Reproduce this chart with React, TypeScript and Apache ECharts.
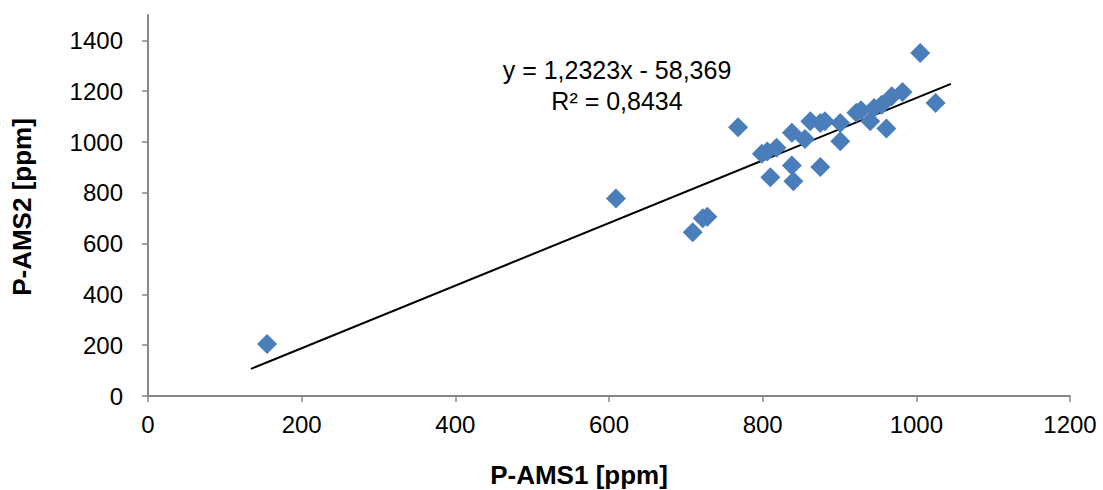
import React, { useEffect, useRef } from "react";
import * as echarts from "echarts";

const xValues = [155, 609, 709, 722, 728, 768, 799, 806, 810, 818, 838, 838, 840, 855, 862, 875, 875, 881, 901, 901, 922, 928, 940, 945, 955, 961, 968, 982, 1005, 1025];
const yValues = [205, 778, 645, 700, 706, 1058, 954, 963, 861, 977, 1036, 907, 845, 1012, 1082, 1075, 902, 1082, 1075, 1003, 1115, 1125, 1082, 1134, 1147, 1053, 1180, 1197, 1350, 1154];
const trendX = [134, 1045];
const trendY = [107, 1229];
const xTicks = [0, 200, 400, 600, 800, 1000, 1200];
const yTicks = [0, 200, 400, 600, 800, 1000, 1200, 1400];
const equationText = "y = 1,2323x - 58,369";
const r2Text = "R² = 0,8434";
const xTitle = "P-AMS1 [ppm]";
const yTitle = "P-AMS2 [ppm]";

const FONT = "'Liberation Sans', Arial, sans-serif";
const AXIS_COLOR = "#878787";

export default function App() {
  const ref = useRef<HTMLDivElement>(null);
  useEffect(() => {
    if (!ref.current) return;
    const chart = echarts.init(ref.current, undefined, { renderer: "svg" });
    const points = xValues.map((x, i) => [x, yValues[i]]);
    const trend = trendX.map((x, i) => [x, trendY[i]]);
    const fmt = (v: number) => String(v);
    chart.setOption({
      animation: false,
      backgroundColor: "#ffffff",
      grid: { left: 148, right: 33, top: 15, bottom: 94, containLabel: false },
      xAxis: {
        type: "value",
        min: 0,
        max: 1200,
        interval: 200,
        splitLine: { show: false },
        axisLine: { show: true, onZero: false, lineStyle: { color: AXIS_COLOR, width: 2 } },
        axisTick: { show: true, length: 6, lineStyle: { color: AXIS_COLOR, width: 1.5 }, customValues: xTicks },
        axisLabel: { color: "#000", fontFamily: FONT, fontSize: 24, margin: 16, customValues: xTicks, formatter: fmt },
      },
      yAxis: {
        type: "value",
        min: 0,
        max: 1500,
        interval: 100,
        splitLine: { show: false },
        axisLine: { show: true, onZero: false, lineStyle: { color: AXIS_COLOR, width: 2 } },
        axisTick: { show: true, length: 6, lineStyle: { color: AXIS_COLOR, width: 1.5 }, customValues: yTicks },
        axisLabel: { color: "#000", fontFamily: FONT, fontSize: 24, margin: 25, customValues: yTicks, formatter: fmt },
      },
      series: [
        {
          type: "line",
          data: trend,
          symbol: "none",
          lineStyle: { color: "#000", width: 2 },
          z: 1,
        },
        {
          type: "scatter",
          data: points,
          symbol: "diamond",
          symbolSize: 20,
          itemStyle: { color: "#4A7EBB", opacity: 1 },
          z: 2,
        },
      ],
      graphic: [
        {
          type: "text",
          x: 617,
          y: 70,
          style: { text: equationText, font: `25px ${FONT}`, fill: "#000", align: "center", verticalAlign: "middle" },
        },
        {
          type: "text",
          x: 617,
          y: 101,
          style: { text: r2Text, font: `25px ${FONT}`, fill: "#000", align: "center", verticalAlign: "middle" },
        },
        {
          type: "text",
          x: 579,
          y: 475,
          style: { text: xTitle, font: `bold 26px ${FONT}`, fill: "#000", align: "center", verticalAlign: "middle" },
        },
        {
          type: "text",
          x: 22,
          y: 207,
          rotation: Math.PI / 2,
          style: { text: yTitle, font: `bold 26px ${FONT}`, fill: "#000", align: "center", verticalAlign: "middle" },
        },
      ],
    });
    return () => chart.dispose();
  }, []);
  return (
    <div
      ref={ref}
      style={{ position: "fixed", left: 0, top: 0, width: 1103, height: 490, background: "#fff" }}
    />
  );
}
